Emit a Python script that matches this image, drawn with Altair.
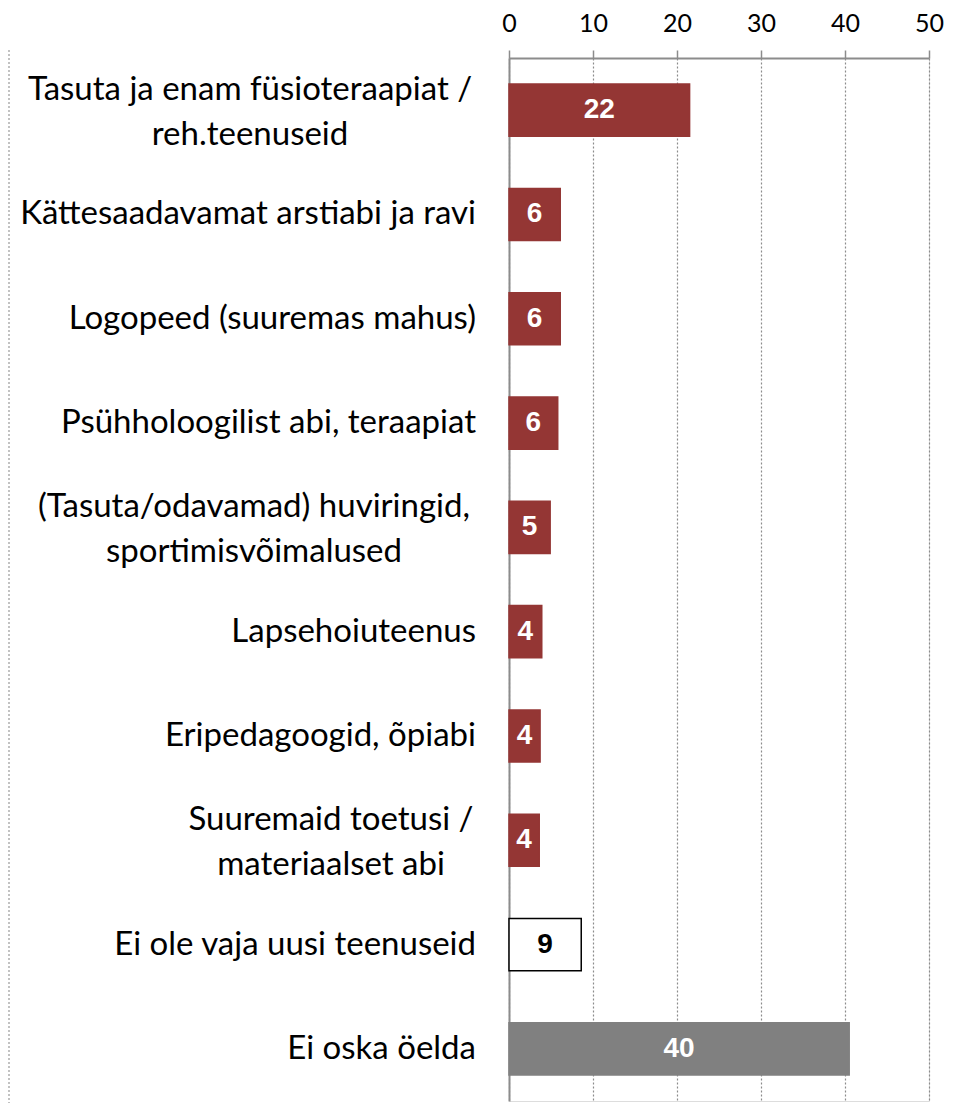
import altair as alt
import pandas as pd

# ---- data ----
categories = [
    "Tasuta ja enam füsioteraapiat /\nreh.teenuseid",
    "Kättesaadavamat arstiabi ja ravi",
    "Logopeed (suuremas mahus)",
    "Psühholoogilist abi, teraapiat",
    "(Tasuta/odavamad) huviringid,\nsportimisvõimalused",
    "Lapsehoiuteenus",
    "Eripedagoogid, õpiabi",
    "Suuremaid toetusi /\nmateriaalset abi",
    "Ei ole vaja uusi teenuseid",
    "Ei oska öelda",
]
values = [21.5, 6.1, 6.1, 5.8, 4.9, 3.9, 3.7, 3.6, 8.6, 40.5]
value_labels = ["22", "6", "6", "6", "5", "4", "4", "4", "9", "40"]
groups = ["need"] * 8 + ["none", "dontknow"]
x_ticks = [0, 10, 20, 30, 40, 50]

# ---- styles ----
RED = "#943634"
GREY = "#808080"
LABEL_FONT = "Lato"
TICK_FONT = "Lato"
BAR_FONT = "Liberation Sans, Arial"
LABEL_SIZE = 33
# center offsets (pixels from the axis) for the multi-line category labels
multi_center = {
    categories[0]: -259,
    categories[4]: -255,
    categories[7]: -178,
}

df = pd.DataFrame({
    "cat": categories,
    "value": values,
    "vlabel": value_labels,
    "group": groups,
})
df["multi"] = df["cat"].str.contains("\n")
df["cx"] = df["cat"].map(multi_center)

W, H = 420, 1043

y_enc = alt.Y("cat:N", sort=categories,
              scale=alt.Scale(paddingInner=0.5, paddingOuter=0.25),
              axis=alt.Axis(labels=False, ticks=False, title=None,
                            domainColor="#8c8c8c", domainWidth=2, grid=False))

x_scale = alt.Scale(domain=[0, 50], nice=False)

base = alt.Chart(df)

bars = base.mark_bar(strokeWidth=1.5).encode(
    x=alt.X("value:Q", scale=x_scale,
            axis=alt.Axis(orient="top", values=x_ticks, title=None,
                          domainColor="#8c8c8c", domainWidth=2,
                          tickColor="#8c8c8c", tickWidth=1.5, tickSize=8,
                          labelFont=TICK_FONT, labelFontSize=25, labelColor="#000000",
                          labelPadding=14, labelFlush=False,
                          grid=True, gridColor="#8c8c8c", gridDash=[2, 2], gridWidth=1.2)),
    y=y_enc,
    color=alt.Color("group:N",
                    scale=alt.Scale(domain=["need", "none", "dontknow"],
                                    range=[RED, "#ffffff", GREY]),
                    legend=None),
    stroke=alt.Stroke("group:N",
                      scale=alt.Scale(domain=["need", "none", "dontknow"],
                                      range=[RED, "#000000", GREY]),
                      legend=None),
)

bar_text = base.transform_calculate(
    mid="datum.value / 2"
).mark_text(font=BAR_FONT, fontWeight="bold", fontSize=28, baseline="middle",
            align="center").encode(
    x=alt.X("mid:Q", scale=x_scale),
    y=alt.Y("cat:N", sort=categories),
    text="vlabel:N",
    color=alt.Color("group:N",
                    scale=alt.Scale(domain=["need", "none", "dontknow"],
                                    range=["#ffffff", "#000000", "#ffffff"]),
                    legend=None),
)

single_labels = base.transform_filter("!datum.multi").mark_text(
    font=LABEL_FONT, fontSize=LABEL_SIZE, align="right", baseline="middle", color="#000000"
).encode(
    x=alt.value(-33),
    y=alt.Y("cat:N", sort=categories),
    text="cat:N",
)

multi_labels = base.transform_filter("datum.multi").mark_text(
    font=LABEL_FONT, fontSize=LABEL_SIZE, align="center", baseline="middle",
    color="#000000", lineBreak="\n", lineHeight=45, dy=-20
).encode(
    x=alt.X("cx:Q", scale=None),
    y=alt.Y("cat:N", sort=categories),
    text="cat:N",
)

edge_rule = base.transform_filter("datum.group == 'dontknow'").mark_rule(
    color="#9a9a9a", strokeDash=[2, 2], strokeWidth=1.2
).encode(
    x=alt.value(-500), y=alt.value(-8), y2=alt.value(1045)
)

chart = alt.layer(bars, bar_text, single_labels, multi_labels, edge_rule).resolve_scale(
    color="independent"
).properties(
    width=W, height=H,
    autosize=alt.AutoSizeParams(type="none"),
    padding={"left": 501, "top": 50, "right": 16, "bottom": 2},
).configure_view(stroke=None).configure(background="#ffffff")

chart.save("out.html", embed_options={"renderer": "svg", "actions": False})
